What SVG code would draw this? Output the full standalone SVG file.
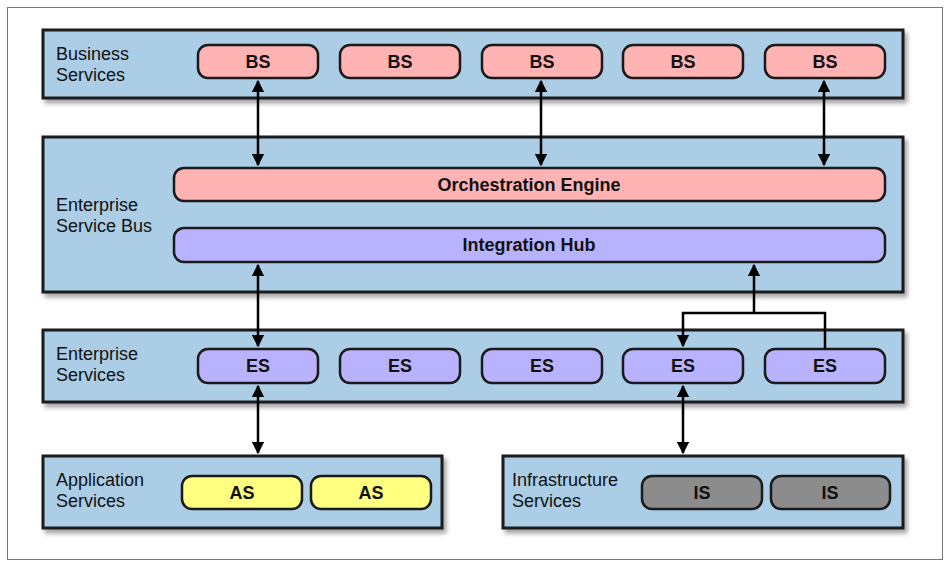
<svg xmlns="http://www.w3.org/2000/svg" width="950" height="567" viewBox="0 0 950 567">
<defs>
<filter id="sh" x="-5%" y="-5%" width="112%" height="125%"><feDropShadow dx="3" dy="4" stdDeviation="2" flood-color="#000" flood-opacity="0.35"/></filter>
<marker id="ah" viewBox="0 0 10 10" refX="9" refY="5" markerWidth="5" markerHeight="5" orient="auto-start-reverse"><path d="M0,0L10,5L0,10z" fill="#000"/></marker>
</defs>
<style>
.panel{fill:#abcde6;stroke:#1a1a1a;stroke-width:3}
.bs{fill:#ffb3b3;stroke:#1a1a1a;stroke-width:2.5}
.es{fill:#b9b3ff;stroke:#1a1a1a;stroke-width:2.5}
.as{fill:#ffff80;stroke:#1a1a1a;stroke-width:2.5}
.is{fill:#8c8c8c;stroke:#1a1a1a;stroke-width:2.5}
.lbl{font-family:"Liberation Sans",Arial,sans-serif;font-size:18px;fill:#111}
.bt{font-family:"Liberation Sans",Arial,sans-serif;font-size:18px;font-weight:bold;fill:#111;text-anchor:middle}
.c{stroke:#000;stroke-width:2.5;fill:none}
</style>
<rect x="7.5" y="7.5" width="935" height="552" fill="#fff" stroke="#777" stroke-width="1"/>
<g id="business">
<rect class="panel" x="43" y="30" width="860" height="68" filter="url(#sh)"/>
<text class="lbl" x="56" y="60">Business</text><text class="lbl" x="56" y="81">Services</text>
<rect class="bs" x="198" y="45" width="120" height="33" rx="10"/><text class="bt" x="258" y="68">BS</text>
<rect class="bs" x="340" y="45" width="120" height="33" rx="10"/><text class="bt" x="400" y="68">BS</text>
<rect class="bs" x="482" y="45" width="120" height="33" rx="10"/><text class="bt" x="542" y="68">BS</text>
<rect class="bs" x="623" y="45" width="120" height="33" rx="10"/><text class="bt" x="683" y="68">BS</text>
<rect class="bs" x="765" y="45" width="120" height="33" rx="10"/><text class="bt" x="825" y="68">BS</text>
</g>
<g id="esb">
<rect class="panel" x="43" y="137" width="860" height="155" filter="url(#sh)"/>
<text class="lbl" x="56" y="211">Enterprise</text><text class="lbl" x="56" y="232">Service Bus</text>
<rect class="bs" x="174" y="168" width="711" height="33" rx="10"/><text class="bt" x="529" y="191">Orchestration Engine</text>
<rect class="es" x="174" y="228" width="711" height="34" rx="10"/><text class="bt" x="529" y="251">Integration Hub</text>
</g>
<g id="enterprise">
<rect class="panel" x="43" y="330" width="860" height="72" filter="url(#sh)"/>
<text class="lbl" x="56" y="360">Enterprise</text><text class="lbl" x="56" y="381">Services</text>
<rect class="es" x="198" y="349" width="120" height="34" rx="10"/><text class="bt" x="258" y="372">ES</text>
<rect class="es" x="340" y="349" width="120" height="34" rx="10"/><text class="bt" x="400" y="372">ES</text>
<rect class="es" x="482" y="349" width="120" height="34" rx="10"/><text class="bt" x="542" y="372">ES</text>
<rect class="es" x="623" y="349" width="120" height="34" rx="10"/><text class="bt" x="683" y="372">ES</text>
<rect class="es" x="765" y="349" width="120" height="34" rx="10"/><text class="bt" x="825" y="372">ES</text>
</g>
<g id="application">
<rect class="panel" x="43" y="456" width="399" height="72" filter="url(#sh)"/>
<text class="lbl" x="56" y="486">Application</text><text class="lbl" x="56" y="507">Services</text>
<rect class="as" x="182" y="476" width="120" height="33" rx="10"/><text class="bt" x="242" y="499">AS</text>
<rect class="as" x="311" y="476" width="120" height="33" rx="10"/><text class="bt" x="371" y="499">AS</text>
</g>
<g id="infrastructure">
<rect class="panel" x="503" y="456" width="400" height="72" filter="url(#sh)"/>
<text class="lbl" x="512" y="486">Infrastructure</text><text class="lbl" x="512" y="507">Services</text>
<rect class="is" x="642" y="476" width="120" height="33" rx="10"/><text class="bt" x="702" y="499">IS</text>
<rect class="is" x="771" y="476" width="119" height="33" rx="10"/><text class="bt" x="830" y="499">IS</text>
</g>
<g id="connectors">
<line class="c" x1="258" y1="81" x2="258" y2="165" marker-start="url(#ah)" marker-end="url(#ah)"/>
<line class="c" x1="541" y1="81" x2="541" y2="165" marker-start="url(#ah)" marker-end="url(#ah)"/>
<line class="c" x1="824" y1="81" x2="824" y2="165" marker-start="url(#ah)" marker-end="url(#ah)"/>
<line class="c" x1="258" y1="265" x2="258" y2="346" marker-start="url(#ah)" marker-end="url(#ah)"/>
<line class="c" x1="258" y1="386" x2="258" y2="453" marker-start="url(#ah)" marker-end="url(#ah)"/>
<line class="c" x1="683" y1="386" x2="683" y2="453" marker-start="url(#ah)" marker-end="url(#ah)"/>
<line class="c" x1="754" y1="313" x2="754" y2="265" marker-end="url(#ah)"/>
<polyline class="c" points="825,349 825,313 683,313 683,346" marker-end="url(#ah)"/>
</g>
</svg>
